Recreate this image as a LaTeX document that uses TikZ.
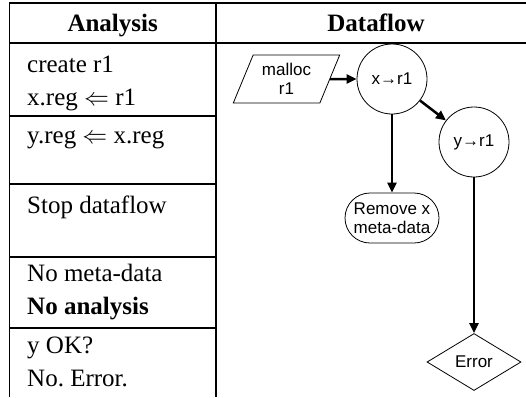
\documentclass[tikz,border=0pt]{standalone}
\usepackage{fontspec}
\setmainfont{Liberation Serif}
\setsansfont{Liberation Sans}
\usetikzlibrary{positioning}
\usetikzlibrary{arrows.meta}
\usetikzlibrary{shapes.geometric}
\usetikzlibrary{shapes.misc}
\tikzset{>={Triangle[width=9pt,length=10pt]}}
\tikzset{cell/.style={anchor=base west, inner sep=0pt, font=\fontsize{25}{33}\selectfont}}
\tikzset{head/.style={anchor=base, inner sep=0pt, font=\fontsize{25}{33}\selectfont\bfseries}}
\tikzset{flow/.style={draw, line width=0.8pt, align=center, inner sep=0pt, font=\sffamily\fontsize{17}{19}\selectfont}}

\begin{document}
\begin{tikzpicture}[x=1pt, y=-1pt]
\useasboundingbox (0,0) rectangle (526,397);
% table
\draw [line width=1.2pt] (9.5,3) -- (526,3);
\draw [line width=2.5pt] (9.5,43) -- (526,43);
\draw [line width=1.2pt] (9.5,2.4) -- (9.5,397);
\draw [line width=1.6pt] (216,2.4) -- (216,397);
\foreach \y in {116,184,257,328}
  \draw [line width=1.2pt] (9.5,\y) -- (216,\y);

\node (A) [head] at (112.7,31) {Analysis};
\node (D) [head] at (376,31) {Dataflow};
\node (a1) [cell] at (27,72) {create r1};
\node (a2) [cell] at (27,105) {x.reg $\Leftarrow$ r1};
\node (b1) [cell] at (27,143) {y.reg $\Leftarrow$ x.reg};
\node (c1) [cell] at (27,213) {Stop dataflow};
\node (d1) [cell] at (27,281) {No meta-data};
\node (d2) [cell] at (27,314) {\bfseries No analysis};
\node (e1) [cell] at (27,353) {y OK?};
\node (e2) [cell] at (27,386) {No.\ Error.};

% dataflow
\node (malloc) [flow, trapezium, trapezium left angle=65, trapezium right angle=115,
  trapezium stretches=true, minimum width=107pt, minimum height=48pt] at (286.5,79) {malloc\\r1};
\node (x) [flow, circle, minimum size=70pt] at (392,79) {x→r1};
\node (y) [flow, circle, minimum size=70pt] at (474,142) {y→r1};
\node (rm) [flow, rounded rectangle, minimum width=94pt, minimum height=50pt] at (392,218) {Remove x\\meta-data};
\node (err) [flow, diamond, minimum width=94pt, minimum height=57pt] at (474,362) {Error};

\path [draw, ->, line width=2.5pt] (malloc) -- (x);
\path [draw, ->, line width=2.5pt] (x) -- (y);
\path [draw, ->, line width=2.5pt] (x) -- (rm);
\path [draw, ->, line width=2.5pt] (y) -- (err);
\end{tikzpicture}
\end{document}
